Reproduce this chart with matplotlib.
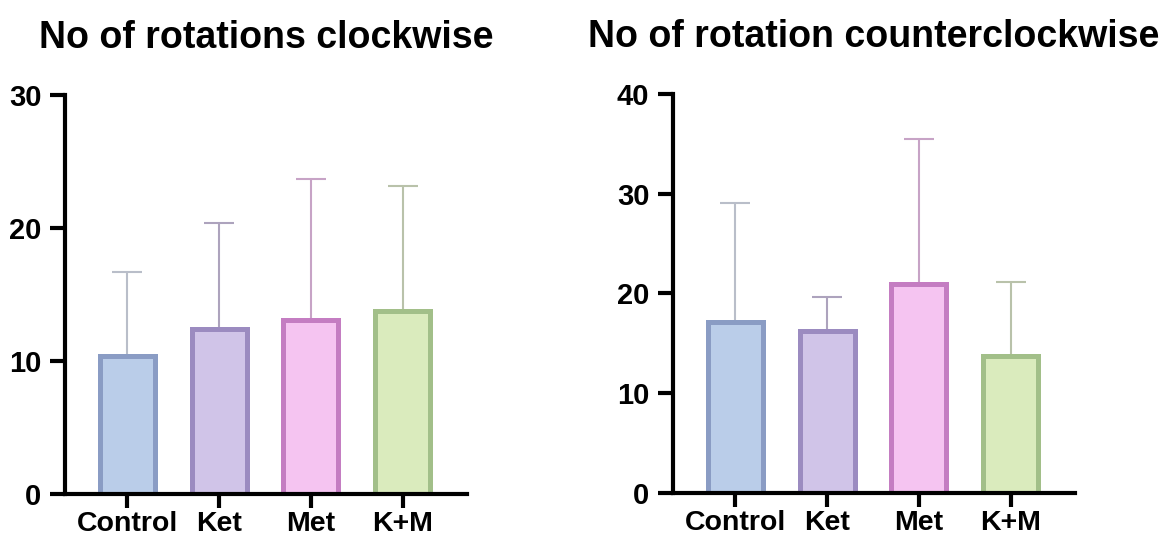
import matplotlib
matplotlib.use('Agg')
import matplotlib.pyplot as plt

# Groups and summary stats (mean + SD) for the two rotation tests
groups = ['Control', 'Ket', 'Met', 'K+M']
cw_mean = [10.4, 12.4, 13.1, 13.8]
cw_sd = [6.3, 8.0, 10.6, 9.4]
ccw_mean = [17.1, 16.2, 20.9, 13.7]
ccw_sd = [12.0, 3.4, 14.6, 7.5]

fill_colors = ['#bacde9', '#d0c4e8', '#f5c4f1', '#daebbd']
edge_colors = ['#8a9cc4', '#9b8bc0', '#c47dc2', '#a2bf89']
err_colors = ['#b9bec9', '#ada3bd', '#c7a3c6', '#b9c2aa']

plt.rcParams['font.family'] = ['Liberation Sans', 'DejaVu Sans']
plt.rcParams['font.weight'] = 'bold'


def draw_panel(ax, means, sds, title, ymax):
  x = list(range(len(groups)))
  ax.bar(x, means, width=0.6, color=fill_colors, edgecolor=edge_colors,
         linewidth=3.6, zorder=1)
  # GraphPad style: SD drawn upwards only
  for i in x:
    ax.errorbar(i, means[i], yerr=[[0], [sds[i]]], fmt='none',
                ecolor=err_colors[i], elinewidth=1.5, capsize=11,
                capthick=1.5, zorder=0.5)
  ax.set_xlim(-0.68, 3.7)
  ax.set_ylim(0, ymax)
  ax.set_yticks(range(0, ymax + 1, 10))
  ax.set_xticks(x)
  ax.set_xticklabels(groups)
  for side in ['top', 'right']:
    ax.spines[side].set_visible(False)
  for side in ['left', 'bottom']:
    ax.spines[side].set_linewidth(3)
  ax.tick_params(axis='y', length=11, width=3, pad=6, labelsize=21)
  ax.tick_params(axis='x', length=10, width=3, pad=2, labelsize=20.5)
  for lbl in ax.get_xticklabels() + ax.get_yticklabels():
    lbl.set_fontweight('bold')
  ax.set_title(title, fontsize=27, fontweight='bold', pad=34)


fig = plt.figure(figsize=(11.75, 5.47), dpi=100)
ax1 = fig.add_axes([0.0553, 0.0960, 0.342, 0.730])
ax2 = fig.add_axes([0.5728, 0.0990, 0.342, 0.729])

draw_panel(ax1, cw_mean, cw_sd, 'No of rotations clockwise', 30)
draw_panel(ax2, ccw_mean, ccw_sd, 'No of rotation counterclockwise', 40)

fig.savefig('out.png', dpi=100)
